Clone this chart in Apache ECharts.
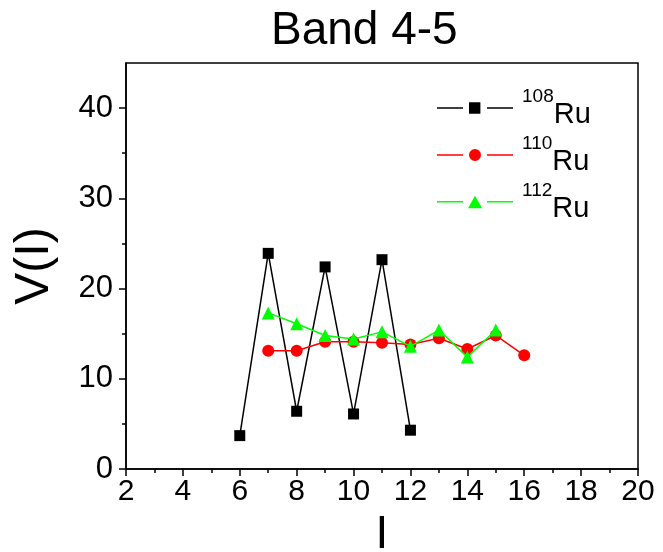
<!DOCTYPE html>
<html><head><meta charset="utf-8">
<script src="https://cdn.jsdelivr.net/npm/echarts@6/dist/echarts.min.js"></script>
<style>html,body{margin:0;padding:0;background:#fff}#c{width:663px;height:552px}</style>
</head><body><div id="c"></div>
<script>
const titleText = 'Band 4-5';
const xName = 'I';
const yName = 'V(I)';
const yMajorTicks = [0, 10, 20, 30, 40];
const yMinorTicks = [5, 15, 25, 35];
const ru108_I = [6, 7, 8, 9, 10, 11, 12];
const ru108_V = [3.7, 23.9, 6.4, 22.4, 6.1, 23.2, 4.3];
const ru110_I = [7, 8, 9, 10, 11, 12, 13, 14, 15, 16];
const ru110_V = [13.1, 13.1, 14.1, 14.1, 14.0, 13.8, 14.5, 13.3, 14.8, 12.6];
const ru112_I = [7, 8, 9, 10, 11, 12, 13, 14, 15];
const ru112_V = [17.3, 16.1, 14.8, 14.4, 15.2, 13.6, 15.4, 12.4, 15.4];
const seriesNames = ['108', '110', '112'];

const FONT = '"Liberation Sans", Arial, sans-serif';
const pair = (xs, ys) => xs.map((x, i) => [x, ys[i]]);

const icons = {
  '108': 'path://M0,5.3h26v1.4h-26z M32,0.3h11.4v11.4h-11.4z M50,5.3h26v1.4h-26z',
  '110': 'path://M0,5.3h26v1.4h-26z M32,6a6,6 0 1,0 12,0a6,6 0 1,0 -12,0z M50,5.3h26v1.4h-26z',
  '112': 'path://M0,5.3h26v1.4h-26z M38,0L45,12.5L31,12.5z M50,5.3h26v1.4h-26z'
};

const chart = echarts.init(document.getElementById('c'), null, {renderer: 'canvas'});
const axisLineStyle = {color: '#000', width: 1.5};
chart.setOption({
  animation: false,
  backgroundColor: '#fff',
  title: {
    text: titleText, left: 271, top: 8, padding: 0,
    textStyle: {fontFamily: FONT, fontSize: 46, fontWeight: 'normal', color: '#000'}
  },
  grid: {left: 126, right: 25, top: 63, bottom: 83, show: true, borderColor: '#000', borderWidth: 1.5,
         containLabel: false, outerBoundsMode: 'none'},
  legend: {
    orient: 'vertical', left: 432, top: 82, itemGap: 5, itemWidth: 76, itemHeight: 12.5,
    data: seriesNames.map(n => ({name: n, icon: icons[n]})),
    formatter: n => '{s|' + n + '}{r|Ru}',
    textStyle: {
      color: '#000', fontFamily: FONT, padding: [0, 0, 0, 4],
      rich: {
        s: {fontSize: 19, fontFamily: FONT, color: '#000', verticalAlign: 'top', lineHeight: 19},
        r: {fontSize: 29, fontFamily: FONT, color: '#000', verticalAlign: 'bottom', lineHeight: 42}
      }
    }
  },
  xAxis: {
    type: 'value', min: 2, max: 20, interval: 2,
    name: xName, nameLocation: 'middle', nameGap: 35,
    nameTextStyle: {fontFamily: FONT, fontSize: 46, color: '#000', verticalAlign: 'top'},
    axisLine: {lineStyle: axisLineStyle},
    axisTick: {show: true, inside: false, length: 7, lineStyle: axisLineStyle},
    minorTick: {show: true, splitNumber: 2, length: 4, lineStyle: axisLineStyle},
    axisLabel: {fontFamily: FONT, fontSize: 30, color: '#000', margin: 8},
    splitLine: {show: false}, minorSplitLine: {show: false}
  },
  yAxis: [{
    type: 'value', min: 0, max: 45, interval: 10, position: 'left',
    name: yName, nameLocation: 'middle', nameGap: 67, nameRotate: 90,
    nameTextStyle: {fontFamily: FONT, fontSize: 48, color: '#000'},
    axisLine: {show: true, lineStyle: axisLineStyle},
    axisTick: {show: true, inside: false, length: 7, lineStyle: axisLineStyle, customValues: yMajorTicks},
    axisLabel: {fontFamily: FONT, fontSize: 31, color: '#000', margin: 13, customValues: yMajorTicks},
    splitLine: {show: false}
  }, {
    type: 'value', min: 0, max: 45, interval: 10, position: 'left', offset: 0,
    axisLine: {show: false},
    axisTick: {show: true, inside: false, length: 4, lineStyle: axisLineStyle, customValues: yMinorTicks},
    axisLabel: {show: false},
    splitLine: {show: false}
  }],
  series: [
    {name: '108', type: 'line', data: pair(ru108_I, ru108_V), symbol: 'rect', symbolSize: 11,
     color: '#000', lineStyle: {color: '#000', width: 1.5}, itemStyle: {color: '#000'}, z: 3},
    {name: '110', type: 'line', data: pair(ru110_I, ru110_V), symbol: 'circle', symbolSize: 12,
     color: '#ff0000', lineStyle: {color: '#ff0000', width: 1.5}, itemStyle: {color: '#ff0000'}, z: 4},
    {name: '112', type: 'line', data: pair(ru112_I, ru112_V), symbol: 'triangle', symbolSize: 13,
     color: '#00ff00', lineStyle: {color: '#00ff00', width: 1.5}, itemStyle: {color: '#00ff00'}, z: 5}
  ]
});
</script></body></html>
